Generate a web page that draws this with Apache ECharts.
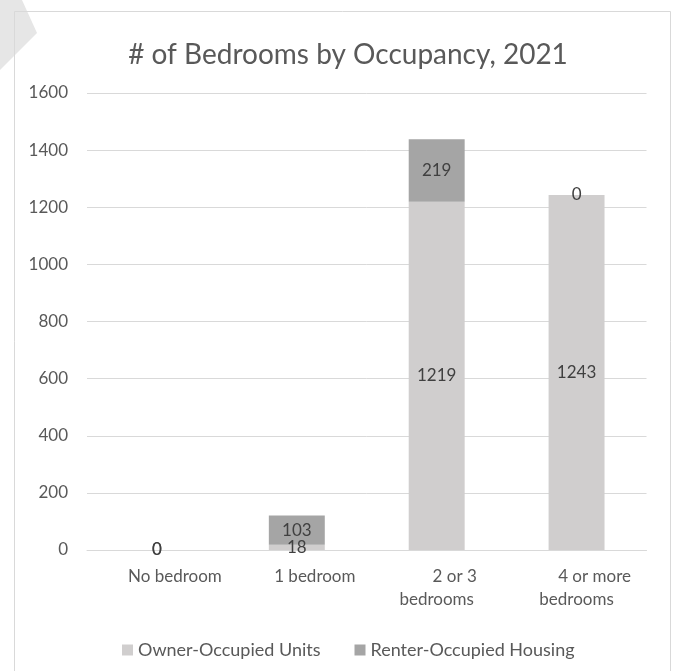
<!DOCTYPE html>
<html>
<head>
<meta charset="utf-8">
<title># of Bedrooms by Occupancy, 2021</title>
<script src="https://cdn.jsdelivr.net/npm/echarts@6/dist/echarts.min.js"></script>
<style>
  html, body { margin: 0; padding: 0; background: #ffffff; }
  #chart { width: 675px; height: 671px; }
</style>
</head>
<body>
<div id="chart"></div>
<script>
// Bedroom-count categories (first line / second line of each axis label)
const categories = ['No bedroom', '1 bedroom', '2 or 3\nbedrooms', '4 or more\nbedrooms'];

// Units by occupancy type
const ownerOccupied = [0, 18, 1219, 1243];
const renterOccupied = [0, 103, 219, 0];

// Value axis ticks
const yTicks = [0, 200, 400, 600, 800, 1000, 1200, 1400, 1600];

const seriesNames = ['Owner-Occupied Units', 'Renter-Occupied Housing'];
const titleText = '# of Bedrooms by Occupancy, 2021';

const FONT = 'Lato, "Liberation Sans", sans-serif';
const TEXT_GREY = '#595959';
const LABEL_DARK = '#404040';
const LINE_GREY = '#d9d9d9';

const chart = echarts.init(document.getElementById('chart'), null, { renderer: 'canvas' });

const valueLabel = {
  show: true,
  position: 'inside',
  color: LABEL_DARK,
  fontFamily: FONT,
  fontSize: 17
};

chart.setOption({
  backgroundColor: '#ffffff',
  animation: false,
  textStyle: { fontFamily: FONT },
  graphic: [
    {
      // corner ornament behind the chart frame
      type: 'polygon',
      z: -10,
      shape: { points: [[0, 0], [22, 0], [37, 33], [0, 70]] },
      style: { fill: '#e6e6e6' }
    },
    {
      // chart frame
      type: 'rect',
      z: -5,
      shape: { x: 14.5, y: 11.5, width: 656, height: 680 },
      style: { fill: 'none', stroke: LINE_GREY, lineWidth: 1 }
    }
  ],
  title: {
    text: titleText,
    left: 343,
    textAlign: 'center',
    top: 36,
    textStyle: {
      fontFamily: FONT,
      fontSize: 28,
      fontWeight: 'normal',
      color: TEXT_GREY
    }
  },
  legend: {
    data: seriesNames,
    left: 117,
    top: 636,
    itemWidth: 11,
    itemHeight: 11,
    itemGap: 34,
    icon: 'rect',
    textStyle: {
      fontFamily: FONT,
      fontSize: 18,
      lineHeight: 18,
      color: TEXT_GREY
    }
  },
  grid: {
    left: 87,
    right: 28.5,
    top: 93,
    bottom: 121,
    containLabel: false
  },
  xAxis: {
    type: 'category',
    data: categories,
    axisLine: { show: true, lineStyle: { color: LINE_GREY, width: 1 } },
    axisTick: { show: false },
    axisLabel: {
      interval: 0,
      margin: 15,
      color: TEXT_GREY,
      fontFamily: FONT,
      fontSize: 17,
      lineHeight: 23,
      formatter: function (value) {
        const lines = value.split('\n');
        let out = '{first|' + lines[0] + '}';
        for (let i = 1; i < lines.length; i++) {
          out += '\n{rest|' + lines[i] + '}';
        }
        return out;
      },
      rich: {
        first: {
          fontFamily: FONT, fontSize: 17, lineHeight: 23, color: TEXT_GREY,
          padding: [0, 0, 0, 36]
        },
        rest: {
          fontFamily: FONT, fontSize: 17, lineHeight: 23, color: TEXT_GREY
        }
      }
    }
  },
  yAxis: {
    type: 'value',
    min: yTicks[0],
    max: yTicks[yTicks.length - 1],
    interval: yTicks[1] - yTicks[0],
    axisLine: { show: false },
    axisTick: { show: false },
    splitLine: { show: true, lineStyle: { color: LINE_GREY, width: 1 } },
    axisLabel: {
      margin: 19,
      color: TEXT_GREY,
      fontFamily: FONT,
      fontSize: 17,
      formatter: function (v) { return String(v); }
    }
  },
  series: [
    {
      name: seriesNames[0],
      type: 'bar',
      stack: 'units',
      barWidth: '40%',
      data: ownerOccupied,
      itemStyle: { color: '#d0cece' },
      label: valueLabel
    },
    {
      name: seriesNames[1],
      type: 'bar',
      stack: 'units',
      barWidth: '40%',
      data: renterOccupied,
      itemStyle: { color: '#a5a5a5' },
      label: valueLabel
    }
  ]
});
</script>
</body>
</html>
